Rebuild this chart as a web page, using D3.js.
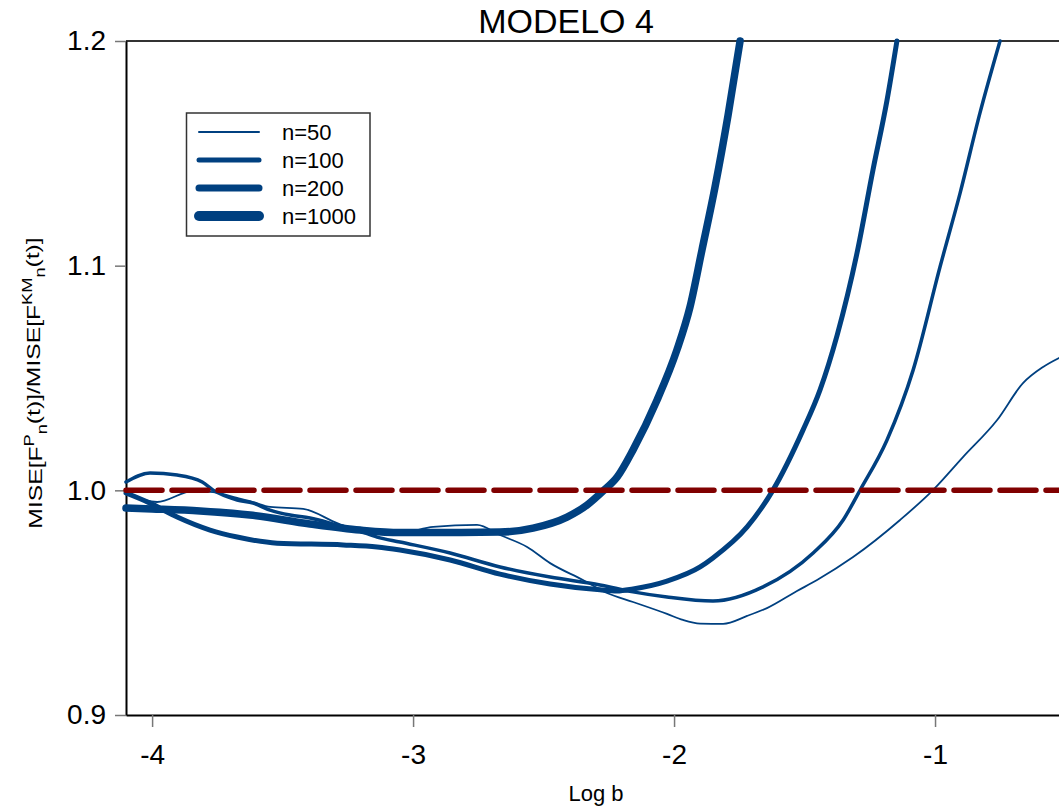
<!DOCTYPE html>
<html>
<head>
<meta charset="utf-8">
<script src="https://cdn.jsdelivr.net/npm/d3@7"></script>
<style>
  body { margin: 0; background: #fff; }
  svg { font-family: "Liberation Sans", Arial, sans-serif; }
</style>
</head>
<body>
<div id="chart"></div>
<script>
// series: log b (x) and MISE ratio (y)
const x50 = [-4.1, -3.981, -3.843, -3.766, -3.674, -3.613, -3.548, -3.421, -3.291, -3.215, -3.126, -3.05, -2.923, -2.755, -2.667, -2.563, -2.475, -2.349, -2.257, -2.157, -2.027, -1.966, -1.9, -1.812, -1.72, -1.644, -1.529, -1.452, -1.314, -1.134, -1.008, -0.893, -0.762, -0.663, -0.586, -0.525];
const y50 = [0.9983, 0.9948, 0.9997, 0.9992, 0.9966, 0.9948, 0.9926, 0.9917, 0.9854, 0.9823, 0.9814, 0.981, 0.9837, 0.9846, 0.9801, 0.9748, 0.9676, 0.9601, 0.9543, 0.9503, 0.945, 0.9423, 0.9407, 0.9406, 0.9441, 0.9476, 0.9552, 0.9601, 0.9703, 0.9868, 1.0001, 1.0148, 1.0313, 1.0477, 1.0549, 1.0589];

const x100 = [-4.1, -4.008, -3.904, -3.808, -3.766, -3.674, -3.613, -3.548, -3.471, -3.395, -3.291, -3.215, -3.138, -3.05, -2.858, -2.667, -2.475, -2.284, -2.157, -2.027, -1.851, -1.659, -1.467, -1.352, -1.287, -1.184, -1.084, -0.981, -0.904, -0.828, -0.751];
const y100 = [1.0037, 1.0077, 1.0068, 1.0037, 1.0001, 0.9957, 0.9943, 0.9912, 0.989, 0.9877, 0.9846, 0.9823, 0.9792, 0.977, 0.9721, 0.9659, 0.9614, 0.9579, 0.9548, 0.9525, 0.9507, 0.957, 0.9721, 0.9868, 1.0001, 1.0224, 1.0535, 1.0994, 1.1323, 1.1679, 1.2];

const x200 = [-4.1, -4.008, -3.904, -3.778, -3.674, -3.521, -3.268, -3.138, -3.05, -2.858, -2.667, -2.475, -2.284, -2.218, -2.157, -2.027, -1.9, -1.851, -1.72, -1.621, -1.506, -1.441, -1.375, -1.299, -1.238, -1.184, -1.146];
const y200 = [0.9988, 0.9943, 0.9881, 0.9823, 0.9792, 0.9765, 0.9757, 0.9748, 0.9734, 0.969, 0.9627, 0.9583, 0.9557, 0.9552, 0.9561, 0.9596, 0.9659, 0.9699, 0.9837, 1.0001, 1.0268, 1.0446, 1.0691, 1.1056, 1.1425, 1.1736, 1.2];

const x1000 = [-4.1, -4.0, -3.816, -3.625, -3.395, -3.203, -3.05, -2.858, -2.667, -2.54, -2.41, -2.333, -2.272, -2.218, -2.157, -2.065, -1.989, -1.939, -1.893, -1.843, -1.793, -1.747];
const y1000 = [0.9921, 0.9917, 0.9908, 0.989, 0.985, 0.9823, 0.9812, 0.9812, 0.9814, 0.9832, 0.9881, 0.9935, 0.9997, 1.0059, 1.018, 1.0402, 1.0625, 1.0816, 1.107, 1.135, 1.167, 1.2];

const seriesNames = ["n=50", "n=100", "n=200", "n=1000"];
const xTicks = [-4, -3, -2, -1];
const yTicks = [0.9, 1.0, 1.1, 1.2];
const refLevel = 1.0;

const series = [
  {name: seriesNames[0], xs: x50, ys: y50, w: 1.8, lw: 2},
  {name: seriesNames[1], xs: x100, ys: y100, w: 3.5, lw: 5},
  {name: seriesNames[2], xs: x200, ys: y200, w: 5, lw: 7},
  {name: seriesNames[3], xs: x1000, ys: y1000, w: 7.5, lw: 10}
];

const width = 1059, height = 811;
const blue = "#004080", red = "#800000";

const svg = d3.select("#chart").append("svg")
  .attr("width", width)
  .attr("height", height);

const x = d3.scaleLinear().domain([-4.1, -0.525]).range([126, 1059]);
const y = d3.scaleLinear().domain([0.9, 1.2]).range([715, 41]);

// top frame line
svg.append("line")
  .attr("x1", 126).attr("x2", width)
  .attr("y1", y(1.2)).attr("y2", y(1.2))
  .attr("stroke", "#333").attr("stroke-width", 2);

// axes
const xAxis = svg.append("g")
  .attr("transform", `translate(0,${y(0.9)})`)
  .call(d3.axisBottom(x).tickValues(xTicks).tickSize(12).tickSizeOuter(0).tickPadding(17).tickFormat(d => String(d)));
const yAxis = svg.append("g")
  .attr("transform", `translate(${x(-4.1)},0)`)
  .call(d3.axisLeft(y).tickValues(yTicks).tickSize(11).tickSizeOuter(0).tickPadding(9).tickFormat(d3.format(".1f")));

[xAxis, yAxis].forEach(g => {
  g.select(".domain").attr("stroke", "#000").attr("stroke-width", 2);
  g.selectAll(".tick line").attr("stroke", "#777").attr("stroke-width", 1.5);
  g.selectAll(".tick text").attr("fill", "#000").style("font-size", "28px");
});

// curves
const line = d3.line()
  .x(d => x(d[0]))
  .y(d => y(d[1]))
  .curve(d3.curveMonotoneX);

series.forEach(s => {
  svg.append("path")
    .datum(s.xs.map((v, i) => [v, s.ys[i]]))
    .attr("d", line)
    .attr("fill", "none")
    .attr("stroke", blue)
    .attr("stroke-width", s.w)
    .attr("stroke-linecap", "round")
    .attr("stroke-linejoin", "round");
});

// reference level
svg.append("line")
  .attr("x1", x(-4.1)).attr("x2", width)
  .attr("y1", y(refLevel)).attr("y2", y(refLevel))
  .attr("stroke", red)
  .attr("stroke-width", 5.5)
  .attr("stroke-dasharray", "36,10")
  .attr("stroke-linecap", "round");

// legend
const legend = svg.append("g");
legend.append("rect")
  .attr("x", 186.5).attr("y", 113)
  .attr("width", 183.5).attr("height", 123)
  .attr("fill", "#fff").attr("stroke", "#333").attr("stroke-width", 1.5);

series.forEach((s, i) => {
  const ly = 132 + i * 28;
  legend.append("line")
    .attr("x1", 199).attr("x2", 259)
    .attr("y1", ly).attr("y2", ly)
    .attr("stroke", blue)
    .attr("stroke-width", s.lw)
    .attr("stroke-linecap", "round");
  legend.append("text")
    .attr("x", 282).attr("y", ly)
    .attr("dy", "0.35em")
    .style("font-size", "22px")
    .text(s.name);
});

// title
svg.append("text")
  .attr("x", 566).attr("y", 33)
  .attr("text-anchor", "middle")
  .style("font-size", "34px")
  .text("MODELO 4");

// x label
svg.append("text")
  .attr("x", 596).attr("y", 801)
  .attr("text-anchor", "middle")
  .style("font-size", "22px")
  .text("Log b");

// y label with super/subscripts
const yl = svg.append("text")
  .attr("transform", "translate(42,383) rotate(-90) scale(1.3,1)")
  .attr("text-anchor", "middle")
  .style("font-size", "19px");
yl.append("tspan").text("MISE[F");
yl.append("tspan").attr("dy", "-0.6em").style("font-size", "14px").text("P");
yl.append("tspan").attr("dy", "0.95em").style("font-size", "14px").text("n");
yl.append("tspan").attr("dy", "-0.35em").text("(t)]/MISE[F");
yl.append("tspan").attr("dy", "-0.6em").style("font-size", "14px").text("KM");
yl.append("tspan").attr("dy", "0.95em").style("font-size", "14px").text("n");
yl.append("tspan").attr("dy", "-0.35em").text("(t)]");
</script>
</body>
</html>
